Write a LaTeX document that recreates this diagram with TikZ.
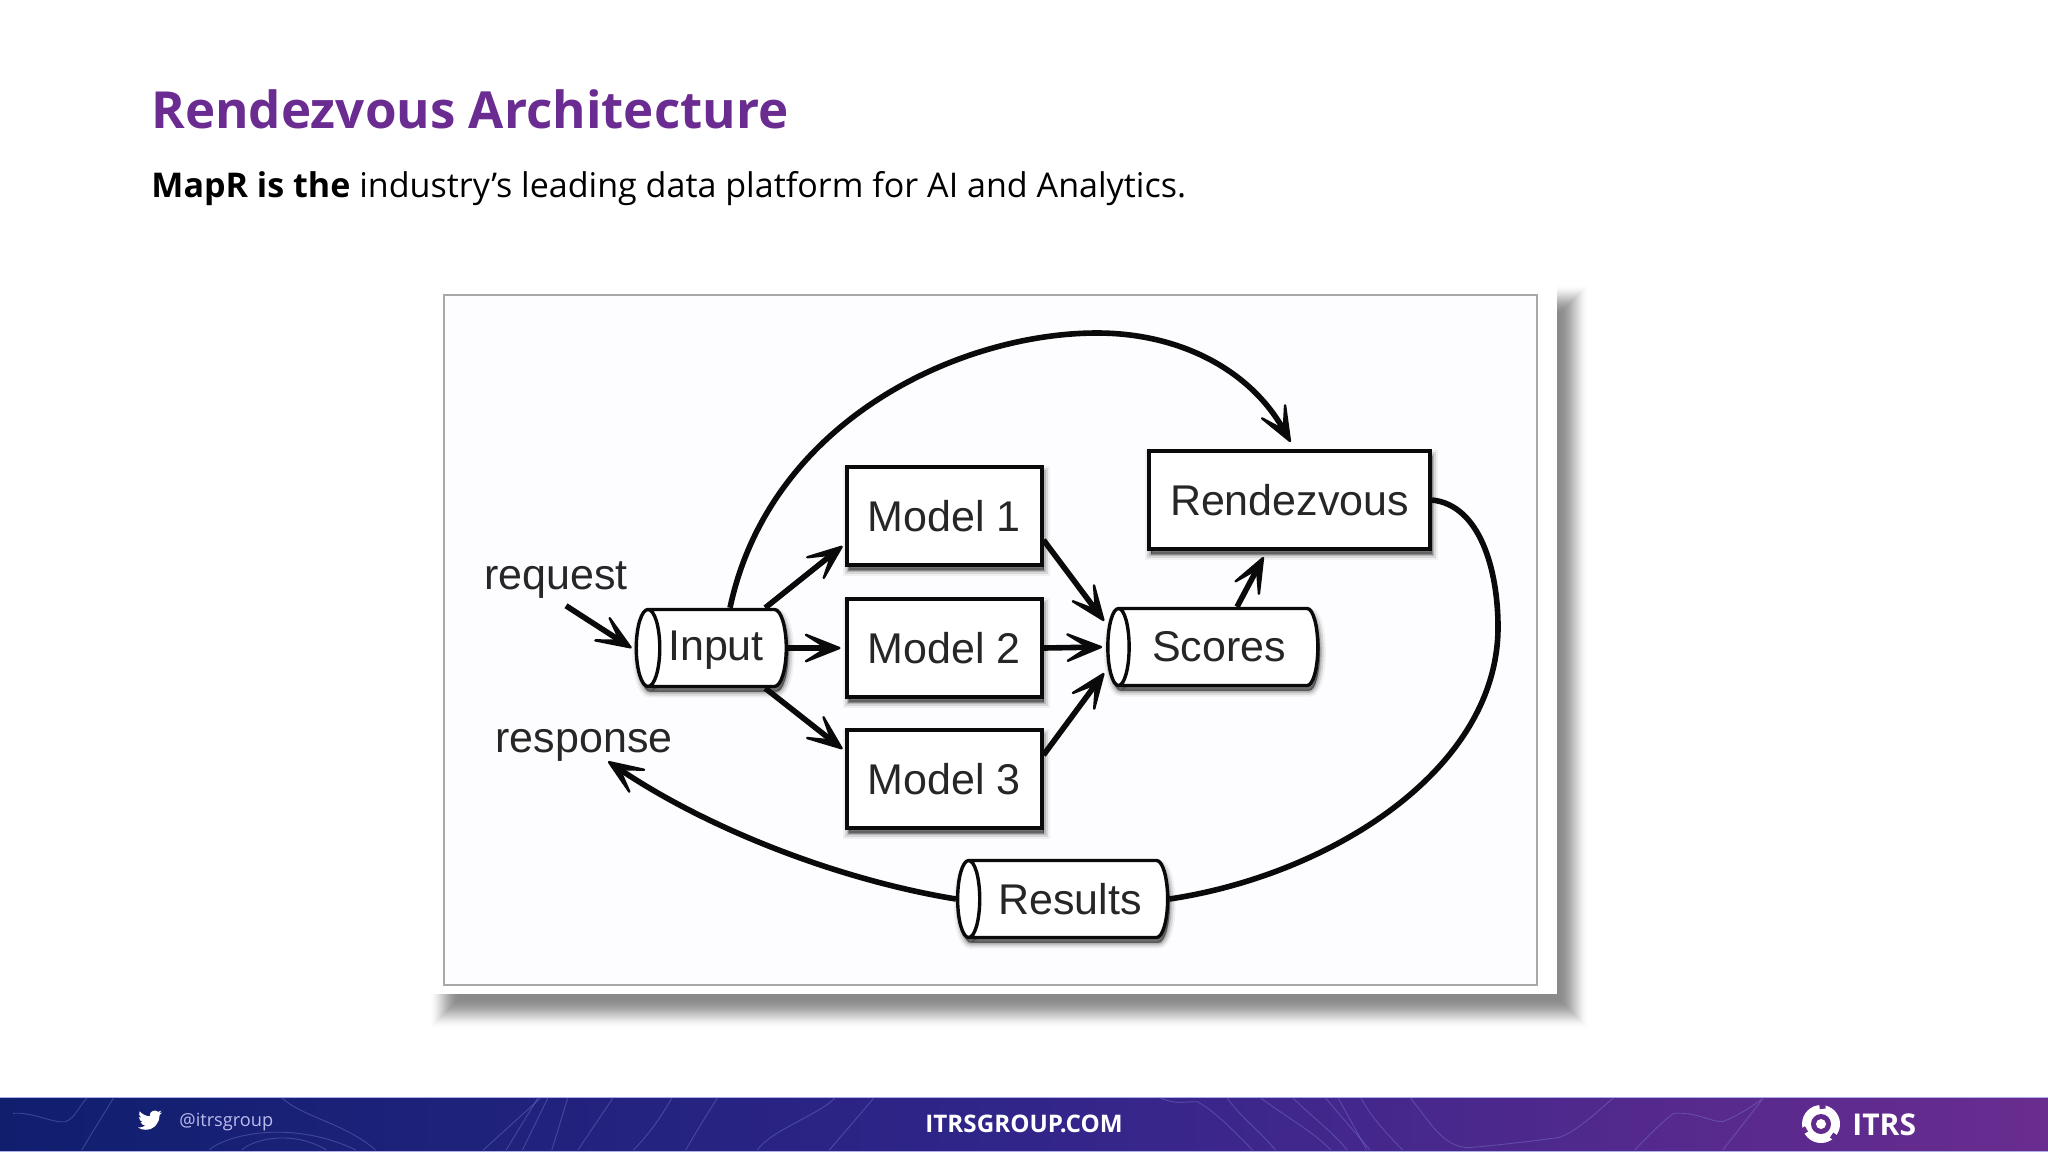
\documentclass[tikz,border=0pt]{standalone}
\usepackage{fontspec}
\setmainfont{Open Sans}
\newfontfamily\diagfont{Liberation Sans}
\usetikzlibrary{arrows.meta,shapes.geometric,shadows}
\definecolor{titlepurple}{HTML}{6B2C91}
\definecolor{inkline}{HTML}{0A0A0A}
\definecolor{inktext}{HTML}{262626}
\definecolor{panelink}{HTML}{A8A8A8}
\definecolor{panelfill}{HTML}{FDFCFE}
\definecolor{barL}{HTML}{0F1F6E}
\definecolor{barM}{HTML}{31258A}
\definecolor{barR}{HTML}{6A2C8F}
\definecolor{contour}{HTML}{8C8CE0}
\tikzset{
  x=0.5pt,y=-0.5pt,
  softshadow/.style={
    general shadow={shadow xshift=1pt,shadow yshift=-2.5pt,fill=black,draw=black,line width=6pt,opacity=.05},
    general shadow={shadow xshift=1pt,shadow yshift=-2.5pt,fill=black,draw=black,line width=4pt,opacity=.1},
    general shadow={shadow xshift=1pt,shadow yshift=-2.5pt,fill=black,draw=black,line width=2pt,opacity=.15},
    general shadow={shadow xshift=1pt,shadow yshift=-2.5pt,fill=black,draw=black,line width=.5pt,opacity=.25}},
  modelbox/.style={draw=inkline,line width=2pt,fill=white,minimum width=97.5pt,minimum height=49pt,inner sep=0pt,softshadow,font=\diagfont\fontsize{21.5}{24}\selectfont,text=inktext},
  tube/.style={cylinder,shape border rotate=180,aspect=0.7,draw=inkline,line width=1.7pt,fill=white,minimum height=#1,minimum width=38.5pt,inner sep=0pt,softshadow,font=\diagfont\fontsize{21.5}{24}\selectfont,text=inktext},
  freelabel/.style={font=\diagfont\fontsize{21.5}{24}\selectfont,text=inktext,inner sep=0pt},
  flow/.style={draw=inkline,line width=2.8pt,-{Stealth[length=24pt,width=19pt,inset=15pt,line width=1.2pt,round]}},
  plainflow/.style={draw=inkline,line width=2.8pt},
  wave/.style={draw=contour,line width=0.45pt,opacity=.35},
}
\begin{document}
\begin{tikzpicture}
\useasboundingbox (0,0) rectangle (2048,1152);
\fill[white] (0,0) rectangle (2048,1152);
% panel shadow
\foreach \d in {30,29,...,0}{
  \pgfmathsetmacro\shade{46*(1-(\d/31)*(\d/31))*(1-(\d/31)*(\d/31))}
  \fill[black!\shade!white] (460-\d,315-\d) rectangle (1558+\d,998+\d);
}
\fill[white] (431,280) rectangle (1557,994);
\draw[panelink,line width=1.3pt,fill=panelfill] (444,295) rectangle (1537,985);
% title
\node[anchor=base west,inner sep=0pt,text=titlepurple,font=\bfseries\fontsize{25.55}{30}\selectfont] (title) at (151,128) {Rendezvous Architecture};
\node[anchor=base west,inner sep=0pt,text=black,font=\fontsize{17.03}{22}\selectfont] (subtitle) at (151,197) {\textbf{MapR is the} industry’s leading data platform for AI and Analytics.};
% diagram
\node[modelbox] (m1) at (944,516) {Model 1};
\node[modelbox] (m2) at (944,648) {Model 2};
\node[modelbox] (m3) at (944,779) {Model 3};
\node[modelbox,minimum width=140.5pt] (rv) at (1289.5,500) {Rendezvous};
\node[tube=75pt] (input) at (718,648) {\hspace{-2pt}\raisebox{0pt}[\height][2pt]{Input}};
\node[tube=105pt] (scores) at (1219,647) {\hspace{0pt}Scores};
\node[tube=105pt] (results) at (1069,899) {\hspace{1pt}Results};
\node[freelabel] (request) at (556,580) {request};
\node[freelabel] (response) at (584,745) {response};
\draw[flow] ([xshift=5pt,yshift=-3.5pt]request.south) -- ([xshift=-1.5pt]input.west);
\draw[flow] (input.east) -- ([xshift=-2pt]m2.west);
\draw[flow] ([xshift=3.5pt]input.north east) -- ([xshift=-1pt,yshift=-15pt]m1.west);
\draw[flow] ([xshift=3.5pt]input.south east) -- ([xshift=-1pt,yshift=15pt]m3.west);
\draw[flow] ([yshift=-12pt]m1.east) -- ([xshift=-1pt,yshift=13pt]scores.west);
\draw[flow] (m2.east) -- ([xshift=-2pt]scores.west);
\draw[flow] ([yshift=12pt]m3.east) -- ([xshift=-1pt,yshift=-13pt]scores.west);
\draw[flow] ([xshift=9pt]scores.north) -- ([xshift=-13pt,yshift=-3pt]rv.south);
\draw[flow] ([xshift=6pt]input.north) .. controls (770,420) and (960,333) .. (1097,333) .. controls (1180,333) and (1250,370) .. ([xshift=0.5pt,yshift=3.5pt]rv.north);
\draw[plainflow] (rv.east) .. controls (1480,505) and (1498,570) .. (1498,627) .. controls (1498,770) and (1330,875) .. (results.east);
\draw[flow] (results.west) .. controls (840,880) and (710,830) .. ([xshift=12pt]response.south);
% footer
\shade[left color=barL,right color=barM] (0,1097) rectangle (1024,1151);
\shade[left color=barM,right color=barR] (1024,1097) rectangle (2048,1151);
\draw[contour!70!white,line width=.5pt] (0,1097) -- (2048,1097) (0,1151) -- (2048,1151);
\begin{scope}
\clip (0,1097) rectangle (2048,1151);
\begin{scope}[shift={(0,1080)},x=0.3265pt,y=-0.1667pt]
\draw[wave] (20,100) .. controls (50,95) and (80,130) .. (100,125) .. controls (115,115) and (120,80) .. (135,50);
\draw[wave] (175,50) -- (125,210);
\draw[wave] (430,50) .. controls (460,110) and (530,130) .. (575,210);
\draw[wave] (320,210) .. controls (350,160) and (450,120) .. (545,210);
\draw[wave] (370,210) .. controls (390,175) and (450,150) .. (500,210);
\draw[wave] (830,50) -- (740,210);
\draw[wave] (825,50) -- (775,210);
\draw[wave] (840,50) -- (800,210);
\draw[wave] (870,50) -- (845,210);
\draw[wave] (940,50) -- (885,210);
\draw[wave] (1030,50) .. controls (1010,120) and (990,170) .. (970,210);
\draw[wave] (1100,50) .. controls (1080,110) and (1065,160) .. (1050,210);
\draw[wave] (1280,50) .. controls (1260,100) and (1180,150) .. (1160,210);
\draw[wave] (1340,50) -- (1270,210);
\end{scope}
\begin{scope}[shift={(1024,1080)},x=0.3265pt,y=-0.1667pt]
\draw[wave] (205,50) .. controls (230,75) and (245,65) .. (265,65) .. controls (290,90) and (320,150) .. (350,210);
\draw[wave] (310,50) .. controls (330,110) and (360,150) .. (385,210);
\draw[wave] (360,50) .. controls (400,110) and (440,150) .. (470,210);
\draw[wave] (410,50) .. controls (440,110) and (470,150) .. (495,210);
\draw[wave] (460,50) -- (530,210);
\draw[wave] (480,50) -- (525,210);
\draw[wave] (515,50) .. controls (530,110) and (560,170) .. (580,210);
\draw[wave] (590,50) .. controls (620,120) and (640,200) .. (680,203) .. controls (730,195) and (790,180) .. (820,172) .. controls (850,150) and (880,90) .. (905,50);
\draw[wave] (935,210) .. controls (960,160) and (980,120) .. (995,100) .. controls (1030,95) and (1050,125) .. (1070,125) .. controls (1090,110) and (1115,80) .. (1135,50);
\draw[wave] (1070,210) -- (1130,60);
\end{scope}
\end{scope}
% twitter bird
\begin{scope}[shift={(138,1108)}]
\fill[white] (23.95,4.57) -- (21.13,5.35) -- (23.29,2.62) -- (20.16,3.8) .. controls (17.5,1) and (11,2.8) .. (11.78,8.29) .. controls (7.69,8.1) and (4.07,6.13) .. (1.64,3.16) .. controls (0.5,5.2) and (1.2,8.4) .. (3.16,9.73) -- (0.93,9.12) .. controls (1,11.5) and (2.6,13.5) .. (4.88,14) -- (2.67,14.09) .. controls (3.3,16) and (5.1,17.4) .. (7.27,17.5) .. controls (5.6,18.9) and (2.8,19.8) .. (0,19.54) .. controls (2.2,21) and (4.9,21.75) .. (7.56,21.75) .. controls (16.6,21.75) and (21.56,14.25) .. (21.56,7.76) -- (21.55,7.13) -- cycle;
\end{scope}
\node[anchor=west,inner sep=0pt,text=contour!60!white,font=\fontsize{9.1}{11}\selectfont] (handle) at (179,1122) {@itrsgroup};
\node[inner sep=0pt,text=white,font=\bfseries\fontsize{12.1}{14}\selectfont] (site) at (1024,1124) {ITRSGROUP.COM};
% logo
\fill[white] (1821,1124) circle[radius=19];
\fill[barR!85!barM] (1821,1124) circle[radius=10];
\fill[white] (1821,1124) circle[radius=5];
\foreach \a in {35,150,265}{\fill[barR!85!barM] (1821,1124) ++(\a:15) -- ++(\a:6) -- ++(\a+90:6) -- ++(\a+180:6) -- cycle;}
\node[anchor=west,inner sep=0pt,text=white,font=\bfseries\fontsize{15}{18}\selectfont] (brand) at (1852,1125) {ITRS};
\end{tikzpicture}
\end{document}
